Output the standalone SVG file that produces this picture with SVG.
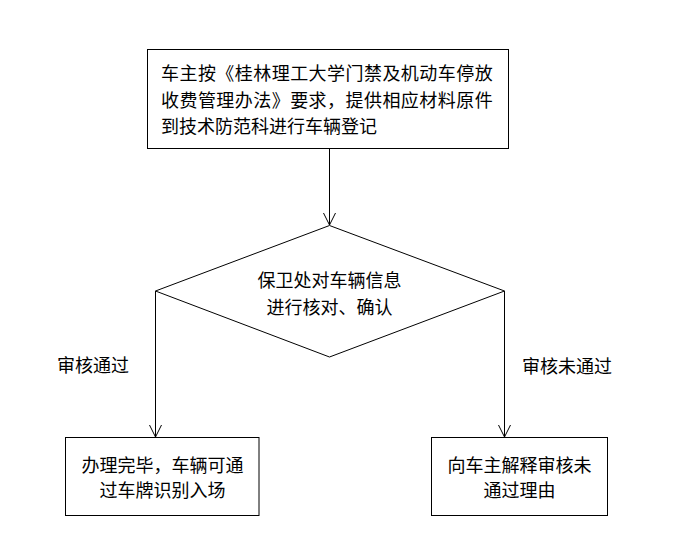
<svg xmlns="http://www.w3.org/2000/svg" width="683" height="548" viewBox="0 0 683 548">
<defs>
<marker id="arr" markerUnits="userSpaceOnUse" markerWidth="14" markerHeight="14" refX="12" refY="6" orient="auto" overflow="visible">
<path d="M0,0 L12,6 L0,12" fill="none" stroke="#000" stroke-width="1"/>
</marker>
<style>
.box{fill:#fff;stroke:#000;stroke-width:1}
.ln{fill:none;stroke:#000;stroke-width:1}
text{font-family:"Noto Sans CJK SC","Noto Sans",sans-serif;font-size:18px;fill:#000;dominant-baseline:central}
.c{text-anchor:middle}
.w{letter-spacing:0.45px}
</style>
</defs>
<rect width="683" height="548" fill="#fff"/>
<g id="connectors">
<line class="ln" x1="329.5" y1="148.5" x2="329.5" y2="225" marker-end="url(#arr)"/>
<polyline class="ln" points="155.5,291 155.5,437" marker-end="url(#arr)"/>
<polyline class="ln" points="504.5,291 504.5,437" marker-end="url(#arr)"/>
<text x="57" y="364">审核通过</text>
<text x="522" y="365">审核未通过</text>
</g>
<g id="n1">
<rect class="box" x="147.5" y="49.5" width="361" height="99"/>
<text class="w" x="161" y="71.5">车主按《桂林理工大学门禁及机动车停放</text>
<text class="w" x="161" y="98.5">收费管理办法》要求，提供相应材料原件</text>
<text x="161" y="125">到技术防范科进行车辆登记</text>
</g>
<g id="n2">
<polygon class="box" points="329.5,225.5 504.5,291 329.5,357 155.5,291"/>
<text class="c" x="329.5" y="279">保卫处对车辆信息</text>
<text class="c" x="329.5" y="306">进行核对、确认</text>
</g>
<g id="n3">
<rect class="box" x="65.5" y="437.5" width="193.5" height="78"/>
<text class="c" x="162.5" y="463.5">办理完毕，车辆可通</text>
<text class="c" x="162.5" y="489">过车牌识别入场</text>
</g>
<g id="n4">
<rect class="box" x="431.5" y="437.5" width="176" height="78"/>
<text class="c" x="519.5" y="463.5">向车主解释审核未</text>
<text class="c" x="519.5" y="489">通过理由</text>
</g>
</svg>
